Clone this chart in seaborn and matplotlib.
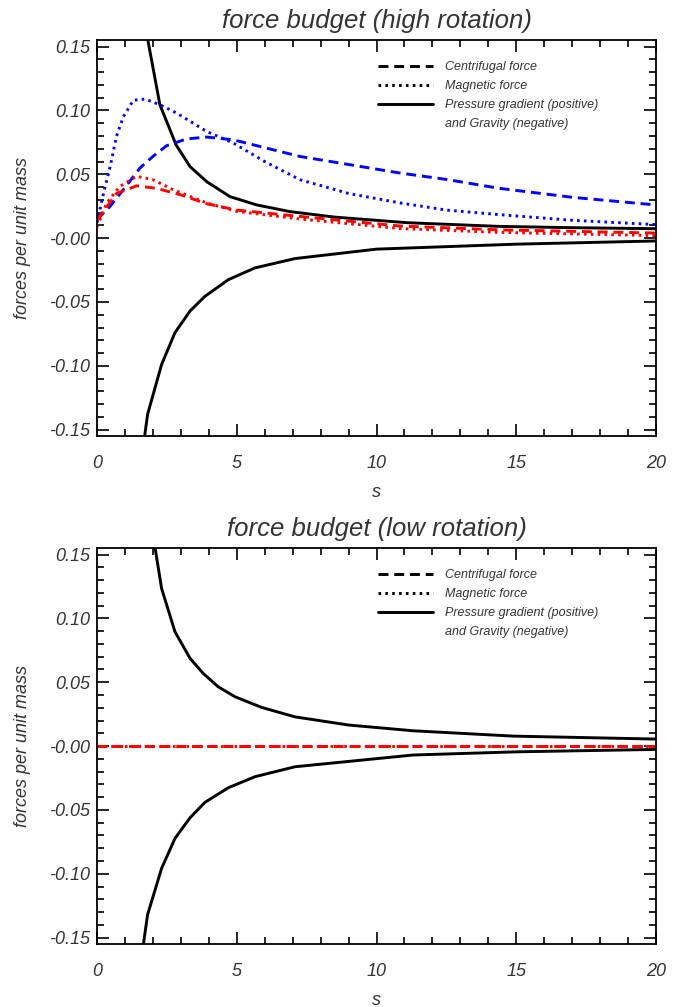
import numpy as np
import matplotlib
matplotlib.use("Agg")
import matplotlib.pyplot as plt
import matplotlib.ticker as mticker
from matplotlib.lines import Line2D
import seaborn as sns

# ---- data (s, force per unit mass) ----
# high rotation
s_press_hi = [1.6, 1.82, 2.25, 2.83, 3.33, 3.94, 4.76, 5.72, 6.9, 8.5, 11.1, 14.4, 17.0, 20.0]
press_hi = [0.20, 0.155, 0.1045, 0.073, 0.056, 0.044, 0.0325, 0.026, 0.0208, 0.0165, 0.0121, 0.0092, 0.0082, 0.0074]
s_grav_hi = [1.55, 1.81, 2.31, 2.79, 3.33, 3.86, 4.70, 5.65, 7.08, 10.0, 15.0, 20.0]
grav_hi = [-0.18, -0.138, -0.099, -0.074, -0.057, -0.0456, -0.0325, -0.0233, -0.016, -0.0086, -0.0047, -0.0022]

s_mag_blue_hi = [0, 0.23, 0.47, 0.70, 0.94, 1.30, 1.72, 2.25, 2.85, 3.92, 4.88, 6.0, 7.26, 9.0, 10.84, 12.5, 14.4, 17.0, 20.0]
mag_blue_hi = [0.012, 0.035, 0.056, 0.080, 0.095, 0.108, 0.109, 0.1045, 0.098, 0.0836, 0.0745, 0.060, 0.0458, 0.035, 0.0276, 0.022, 0.0184, 0.014, 0.0106]
s_cen_blue_hi = [0, 0.47, 0.94, 1.54, 2.0, 2.49, 3.2, 3.92, 4.88, 7.26, 10.84, 12.5, 14.4, 17.0, 20.0]
cen_blue_hi = [0.0145, 0.025, 0.038, 0.055, 0.064, 0.0724, 0.0777, 0.0792, 0.077, 0.064, 0.051, 0.046, 0.039, 0.032, 0.026]

s_cen_red_hi = [0, 0.1, 0.7, 1.42, 2.13, 2.99, 3.92, 5.0, 7.26, 10.84, 14.4, 20.0]
cen_red_hi = [0.014, 0.017, 0.035, 0.041, 0.039, 0.034, 0.027, 0.022, 0.017, 0.0095, 0.0065, 0.004]
s_mag_red_hi = [0, 0.35, 0.82, 1.42, 2.0, 2.72, 3.92, 5.0, 7.26, 10.84, 14.4, 20.0]
mag_red_hi = [0.009, 0.0276, 0.0406, 0.0484, 0.0458, 0.038, 0.0276, 0.021, 0.015, 0.0075, 0.0045, 0.002]

# low rotation
s_press_lo = [1.9, 2.08, 2.31, 2.79, 3.33, 3.80, 4.34, 4.94, 5.89, 7.08, 9.0, 11.3, 14.9, 20.0]
press_lo = [0.19, 0.155, 0.1235, 0.0895, 0.0687, 0.0569, 0.0464, 0.0386, 0.0303, 0.0229, 0.0165, 0.012, 0.0078, 0.0055]
s_grav_lo = [1.5, 1.81, 2.31, 2.79, 3.33, 3.86, 4.70, 5.65, 7.08, 11.3, 15.0, 20.0]
grav_lo = [-0.18, -0.132, -0.0958, -0.0723, -0.0561, -0.0441, -0.0326, -0.024, -0.0162, -0.007, -0.0045, -0.0026]
s_red_lo = [0, 20.0]
cen_red_lo = [0.0, 0.0]
mag_red_lo = [0.0, 0.0]

titles = ["force budget (high rotation)", "force budget (low rotation)"]
legend_labels = ["Centrifugal force", "Magnetic force",
                 "Pressure gradient (positive)", "and Gravity (negative)"]
ytick_vals = [-0.15, -0.10, -0.05, 0.0, 0.05, 0.10, 0.15]
ytick_labels = ["-0.15", "-0.10", "-0.05", "-0.00", "0.05", "0.10", "0.15"]
xtick_vals = [0, 5, 10, 15, 20]

sns.set_style("ticks")
plt.rcParams["font.family"] = ["Liberation Sans", "DejaVu Sans"]
plt.rcParams["font.style"] = "italic"

TXT = "#333333"
DASH = (0, (3.4, 2.0))
DOT = (0, (0.9, 1.45))
LW = 2.1

fig = plt.figure(figsize=(6.86, 10.07), dpi=100)
ax_hi = fig.add_axes([0.1414, 0.567, 0.815, 0.393])
ax_lo = fig.add_axes([0.1414, 0.0626, 0.815, 0.393])


def line(ax, s, v, color, ls):
    sns.lineplot(x=s, y=v, ax=ax, color=color, linestyle=ls, linewidth=LW,
                 estimator=None, sort=False)


def dress(ax, title):
    ax.set_xlim(0, 20)
    ax.set_ylim(-0.155, 0.155)
    ax.set_xticks(xtick_vals)
    ax.set_xticklabels([str(v) for v in xtick_vals])
    ax.set_yticks(ytick_vals)
    ax.set_yticklabels(ytick_labels)
    ax.xaxis.set_minor_locator(mticker.MultipleLocator(1))
    ax.yaxis.set_minor_locator(mticker.MultipleLocator(0.01))
    ax.tick_params(which="both", direction="in", top=True, right=True,
                   color="black", width=1.2)
    ax.tick_params(which="major", length=8.5)
    ax.tick_params(which="minor", length=5)
    ax.tick_params(axis="x", which="major", pad=14, labelsize=13, labelcolor=TXT)
    ax.tick_params(axis="y", which="major", pad=5, labelsize=13, labelcolor=TXT)
    for sp in ax.spines.values():
        sp.set_linewidth(1.3)
        sp.set_color("black")
    ax.set_xlabel("s", fontsize=13, color=TXT, labelpad=8)
    ax.set_ylabel("forces per unit mass", fontsize=13, color=TXT, labelpad=13)
    ax.set_title(title, fontsize=18.5, color=TXT, pad=9)

    handles = [Line2D([], [], color="black", linestyle=DASH, linewidth=LW),
               Line2D([], [], color="black", linestyle=DOT, linewidth=LW),
               Line2D([], [], color="black", linestyle="-", linewidth=LW),
               Line2D([], [], color="none")]
    leg = ax.legend(handles, legend_labels, loc="upper left",
                    bbox_to_anchor=(0.482, 0.975), frameon=False, fontsize=9,
                    handlelength=4.4, labelspacing=0.56, handletextpad=1.0)
    for t in leg.get_texts():
        t.set_color(TXT)


# high rotation panel
line(ax_hi, s_press_hi, press_hi, "black", "-")
line(ax_hi, s_grav_hi, grav_hi, "black", "-")
line(ax_hi, s_cen_blue_hi, cen_blue_hi, "blue", DASH)
line(ax_hi, s_mag_blue_hi, mag_blue_hi, "blue", DOT)
line(ax_hi, s_cen_red_hi, cen_red_hi, "red", DASH)
line(ax_hi, s_mag_red_hi, mag_red_hi, "red", DOT)
dress(ax_hi, titles[0])

# low rotation panel
line(ax_lo, s_press_lo, press_lo, "black", "-")
line(ax_lo, s_grav_lo, grav_lo, "black", "-")
line(ax_lo, s_red_lo, cen_red_lo, "red", DASH)
line(ax_lo, s_red_lo, mag_red_lo, "red", DOT)
dress(ax_lo, titles[1])

fig.savefig("out.png", dpi=100)
plt.close(fig)
